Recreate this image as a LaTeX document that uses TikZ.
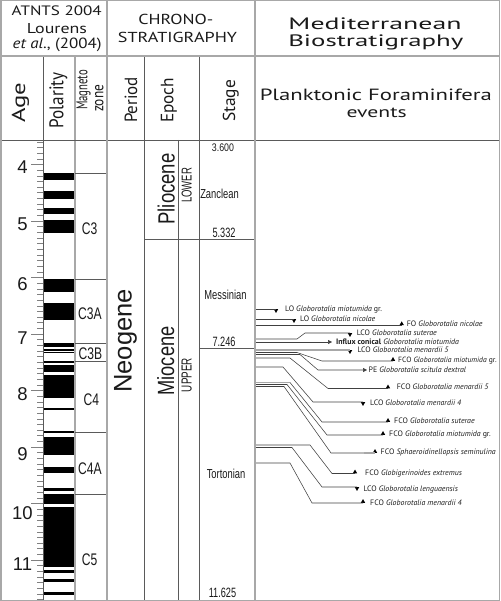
\documentclass[tikz,border=0pt]{standalone}
\usepackage{fontspec}
\usetikzlibrary{shapes.geometric,arrows.meta}
\newfontfamily\hdr{PT Sans}
\newfontfamily\arl{Liberation Sans}
\newcommand{\RB}[3]{\resizebox{#1pt}{#2pt}{#3}}
\newcommand{\SX}[2]{\scalebox{#1}[1]{#2}}
\definecolor{sepgray}{HTML}{A8A8A8}
\definecolor{lingray}{HTML}{5A5A5A}
\definecolor{evline}{HTML}{404040}
\definecolor{txt}{HTML}{1A1A1A}
\begin{document}
\begin{tikzpicture}[x=1pt,y=-1pt,
  thinln/.style={draw=lingray,line width=0.7pt},
  sepln/.style={draw=sepgray,line width=2pt},
  midln/.style={draw=sepgray,line width=1.3pt},
  tickln/.style={draw=gray,line width=0.5pt},
  ev/.style={draw=evline,line width=0.55pt},
  evg/.style={draw=sepgray,line width=1.2pt},
  upm/.style={regular polygon,regular polygon sides=3,fill=black,draw=none,inner sep=0pt,minimum size=5pt,anchor=south},
  dnm/.style={regular polygon,regular polygon sides=3,shape border rotate=180,fill=black,draw=none,inner sep=0pt,minimum size=5pt,anchor=north},
  evt/.style={anchor=base west,inner sep=0pt,text=txt,font=\hdr\fontsize{7.85}{9}\selectfont},
  lbl/.style={inner sep=0pt,text=txt},
  arr/.style={ev,-{Triangle[length=4pt,width=4pt]}},
]
\useasboundingbox (0,0) rectangle (500,601);
% polarity bars
\foreach \a/\b in {173/180,191/199,208/214,220/233,279/292,303/320,343/347,349/350.5,351.5/352.8,360.7/362.5,365/372,374.5/398.3,407.7/410,430.5/433,436.8/455,467.3/473.3,487.5/490.8,494/504,506.8/566.7,569.5/572.7,579.4/581.8,591.8/595}
  \fill[black] (43.4,\a) rectangle (74.4,\b);
% ticks
\foreach \i in {0,...,81}{%
  \pgfmathsetmacro\yy{141.9+5.65*\i}%
  \pgfmathtruncatemacro\tickm{mod(\i,10)}%
  \ifnum\tickm=4 \draw[tickln] (31,\yy) -- (43,\yy);\else\draw[tickln] (37,\yy) -- (43,\yy);\fi
}
% grid
\draw[thinln] (43,56) -- (43,601);
\draw[midln] (75,56) -- (75,601);
\draw[thinln] (144,56) -- (144,601);
\draw[thinln] (178,140) -- (178,601);
\draw[thinln] (199,56) -- (199,601);
\draw[thinln] (0,140) -- (500,140);
\draw[thinln] (144,239.5) -- (255,239.5);
\draw[thinln] (199,348.5) -- (255,348.5);
\foreach \yy in {173,279,343,361,432,494} \draw[thinln] (75,\yy) -- (107,\yy);
\draw[thinln] (106,199) -- (106,259);
\draw[sepln] (107,0) -- (107,601);
\draw[sepln] (255,0) -- (255,601);
\draw[sepln] (0,56) -- (500,56);
\draw[draw=sepgray,line width=1.5pt] (0.75,0.75) rectangle (499.25,600.25);
% headers
\node[lbl,anchor=base] (h1) at (56.7,15.7) {\hdr\RB{90}{9.7}{ATNTS 2004}};
\node[lbl,anchor=base] (h2) at (57,33.3) {\hdr\RB{60}{10}{Lourens}};
\node[lbl,anchor=base] (h3) at (57.2,48.5) {\hdr\RB{89}{10.5}{\textit{et al.}, (2004)}};
\node[lbl,anchor=base] (h4) at (175.8,25) {\hdr\RB{75}{10.3}{CHRONO-}};
\node[lbl,anchor=base] (h5) at (177.5,42.3) {\hdr\RB{119}{10.3}{STRATIGRAPHY}};
\node[lbl,anchor=base] (h6) at (375,30) {\hdr\RB{173}{11.7}{Mediterranean}};
\node[lbl,anchor=base] (h7) at (375.8,46.7) {\hdr\RB{175}{11.7}{Biostratigraphy}};
\node[lbl,anchor=base] (h8) at (375.8,100.7) {\hdr\RB{232}{11.5}{Planktonic Foraminifera}};
\node[lbl,anchor=base] (h9) at (376.7,117.3) {\hdr\RB{60}{9.5}{events}};
% column titles
\node[lbl,rotate=90,anchor=base] (cAge) at (25,103) {\hdr\RB{40}{13.3}{Age}};
\node[lbl,rotate=90,anchor=base] (cPol) at (63.3,100.5) {\hdr\RB{56}{14}{Polarity}};
\node[lbl,rotate=90,anchor=base west] (cMag) at (87.3,110) {\hdr\RB{40}{11}{Magneto}};
\node[lbl,rotate=90,anchor=base west] (cZone) at (103.3,112) {\hdr\RB{27}{8.3}{zone}};
\node[lbl,rotate=90,anchor=base] (cPer) at (137,100) {\hdr\RB{46}{12.5}{Period}};
\node[lbl,rotate=90,anchor=base] (cEp) at (173.3,100.5) {\hdr\RB{45}{12.5}{Epoch}};
\node[lbl,rotate=90,anchor=base] (cSt) at (235,101) {\hdr\RB{42}{12.3}{Stage}};
% ages
\foreach \n/\b in {4/174,5/230,6/290.7,7/344,8/400.7,9/460.7,10/519,11/570.7}
  \node[lbl,anchor=base,font=\arl\fontsize{18.5}{18.5}\selectfont] (age\n) at (22.5,\b) {\n};
% period / epoch
\node[lbl,rotate=90,anchor=base,font=\arl\fontsize{25.5}{25.5}\selectfont] (neo) at (131.5,341) {Neogene};
\node[lbl,rotate=90,anchor=base] (plio) at (174.5,189) {\arl\RB{71}{17}{Pliocene}};
\node[lbl,rotate=90,anchor=base] (mio) at (174,361) {\arl\RB{69}{17}{Miocene}};
\node[lbl,rotate=90,anchor=base] (low) at (191.7,185.5) {\arl\RB{35}{10}{LOWER}};
\node[lbl,rotate=90,anchor=base] (upp) at (191.7,375) {\arl\RB{34}{10}{UPPER}};
% magnetozones
\foreach \t/\x/\b in {C3/89.5/235,C3A/90/319,C3B/90.5/359,C4/91.3/405.7,C4A/90/474,C5/89.5/565.7}
  \node[lbl,anchor=base,font=\arl\fontsize{16.8}{16.8}\selectfont] (mz\t) at (\x,\b) {\SX{0.72}{\t}};
% stages
\node[lbl,anchor=base,font=\arl\fontsize{11}{11}\selectfont] (st3600) at (223,151.5) {\SX{0.8}{3.600}};
\node[lbl,anchor=base,font=\arl\fontsize{13.5}{13.5}\selectfont] (st5332) at (224,237) {\SX{0.68}{5.332}};
\node[lbl,anchor=base,font=\arl\fontsize{13.5}{13.5}\selectfont] (st7246) at (224,346.7) {\SX{0.68}{7.246}};
\node[lbl,anchor=base,font=\arl\fontsize{13.5}{13.5}\selectfont] (st11625) at (222.5,597) {\SX{0.68}{11.625}};
\node[lbl,anchor=base,font=\arl\fontsize{13}{13}\selectfont] (zan) at (219.5,198.5) {\SX{0.72}{Zanclean}};
\node[lbl,anchor=base,font=\arl\fontsize{13}{13}\selectfont] (mes) at (225.5,299) {\SX{0.72}{Messinian}};
\node[lbl,anchor=base,font=\arl\fontsize{13}{13}\selectfont] (tor) at (226,478.7) {\SX{0.72}{Tortonian}};
% events
\coordinate (s1) at (256,309);
\node[dnm] (m1) at (276,309) {};
\node[evt] (t1) at (285,311.5) {LO \textit{Globorotalia miotumida} gr.};
\draw[ev] (s1) -- (m1.north);
\coordinate (s2) at (256,319);
\node[dnm] (m2) at (294,319) {};
\node[evt] (t2) at (300,321.5) {LO \textit{Globorotalia nicolae}};
\draw[ev] (s2) -- (m2.north);
\coordinate (s3) at (256,325.3);
\node[upm] (m3) at (401.7,325.3) {};
\node[evt] (t3) at (406.7,326) {FO \textit{Globorotalia nicolae}};
\draw[ev] (s3) -- (m3.south);
\coordinate (s4) at (256,339);
\coordinate (a4) at (297,339);
\coordinate (b4) at (305,333);
\node[dnm] (m4) at (350,333) {};
\node[evt] (t4) at (356.7,335.7) {LCO \textit{Globorotalia suterae}};
\draw[ev] (s4) -- (a4) -- (b4) -- (m4.north);
\coordinate (s5) at (256,342);
\coordinate (m5) at (332,342);
\node[evt] (t5) at (336,344.5) {\textbf{Influx conical} \textit{Globorotalia miotumida}};
\draw[arr] (s5) -- (m5);
\coordinate (s6) at (256,350);
\node[dnm] (m6) at (350,350) {};
\node[evt] (t6) at (357.3,352.8) {LCO \textit{Globorotalia menardii 5}};
\draw[evg] (s6) -- (m6.north);
\coordinate (s7) at (256,352.5);
\coordinate (a7) at (297,352.5);
\coordinate (b7) at (322,361);
\node[upm] (m7) at (393,361) {};
\node[evt,font=\hdr\fontsize{7.6}{9}\selectfont] (t7) at (398,362) {FCO \textit{Globorotalia miotumida} gr.};
\draw[ev] (s7) -- (a7) -- (b7) -- (m7.south);
\coordinate (s8) at (256,354.5);
\coordinate (a8) at (300,354.5);
\coordinate (b8) at (318,370);
\coordinate (m8) at (367,370);
\node[evt] (t8) at (368.5,372.5) {PE \textit{Globorotalia scitula dextral}};
\draw[arr] (s8) -- (a8) -- (b8) -- (m8);
\coordinate (s9) at (256,358);
\coordinate (a9) at (290,358);
\coordinate (b9) at (328,388.5);
\node[upm] (m9) at (388,388.5) {};
\node[evt] (t9) at (396.7,389) {FCO \textit{Globorotalia menardii 5}};
\draw[ev] (s9) -- (a9) -- (b9) -- (m9.south);
\coordinate (s10) at (256,367);
\coordinate (a10) at (283,367);
\coordinate (b10) at (313,402);
\node[dnm] (m10) at (363,402) {};
\node[evt] (t10) at (370,405) {LCO \textit{Globorotalia menardii 4}};
\draw[ev] (s10) -- (a10) -- (b10) -- (m10.north);
\coordinate (s11) at (256,382.5);
\coordinate (a11) at (290,382.5);
\coordinate (b11) at (322,422);
\node[upm] (m11) at (388,422) {};
\node[evt] (t11) at (394,423) {FCO \textit{Globorotalia suterae}};
\draw[evg] (s11) -- (a11);
\draw[ev] (a11) -- (b11) -- (m11.south);
\coordinate (s12) at (256,384.5);
\coordinate (a12) at (287,384.5);
\coordinate (b12) at (327,435);
\node[upm] (m12) at (383,435) {};
\node[evt] (t12) at (389,436) {FCO \textit{Globorotalia miotumida} gr.};
\draw[ev] (s12) -- (a12) -- (b12) -- (m12.south);
\coordinate (s13) at (256,386.5);
\coordinate (a13) at (284,386.5);
\coordinate (b13) at (331,453);
\coordinate (c13) at (364,453);
\node[upm] (m13) at (375,453) {};
\node[evt] (t13) at (380.5,454) {FCO \textit{Sphaeroidinellopsis seminulina}};
\draw[ev] (s13) -- (a13) -- (b13) -- (c13);
\draw[evg] (c13) -- (m13.south);
\coordinate (s14) at (256,445);
\coordinate (a14) at (310,445);
\coordinate (b14) at (332,473.5);
\node[upm] (m14) at (355,473.5) {};
\node[evt] (t14) at (365,475.5) {FCO \textit{Globigerinoides extremus}};
\draw[ev] (s14) -- (a14) -- (b14) -- (m14.south);
\coordinate (s15) at (256,447.5);
\coordinate (a15) at (292,447.5);
\coordinate (b15) at (322,487);
\node[dnm] (m15) at (357,487) {};
\node[evt] (t15) at (363.3,491) {LCO \textit{Globorotalia lenguaensis}};
\draw[ev] (s15) -- (a15) -- (b15) -- (m15.north);
\coordinate (s16) at (256,463);
\coordinate (a16) at (290,463);
\coordinate (b16) at (312,503);
\node[upm] (m16) at (363,503) {};
\node[evt] (t16) at (370,505) {FCO \textit{Globorotalia menardii 4}};
\draw[ev] (s16) -- (a16) -- (b16) -- (m16.south);
\end{tikzpicture}
\end{document}
